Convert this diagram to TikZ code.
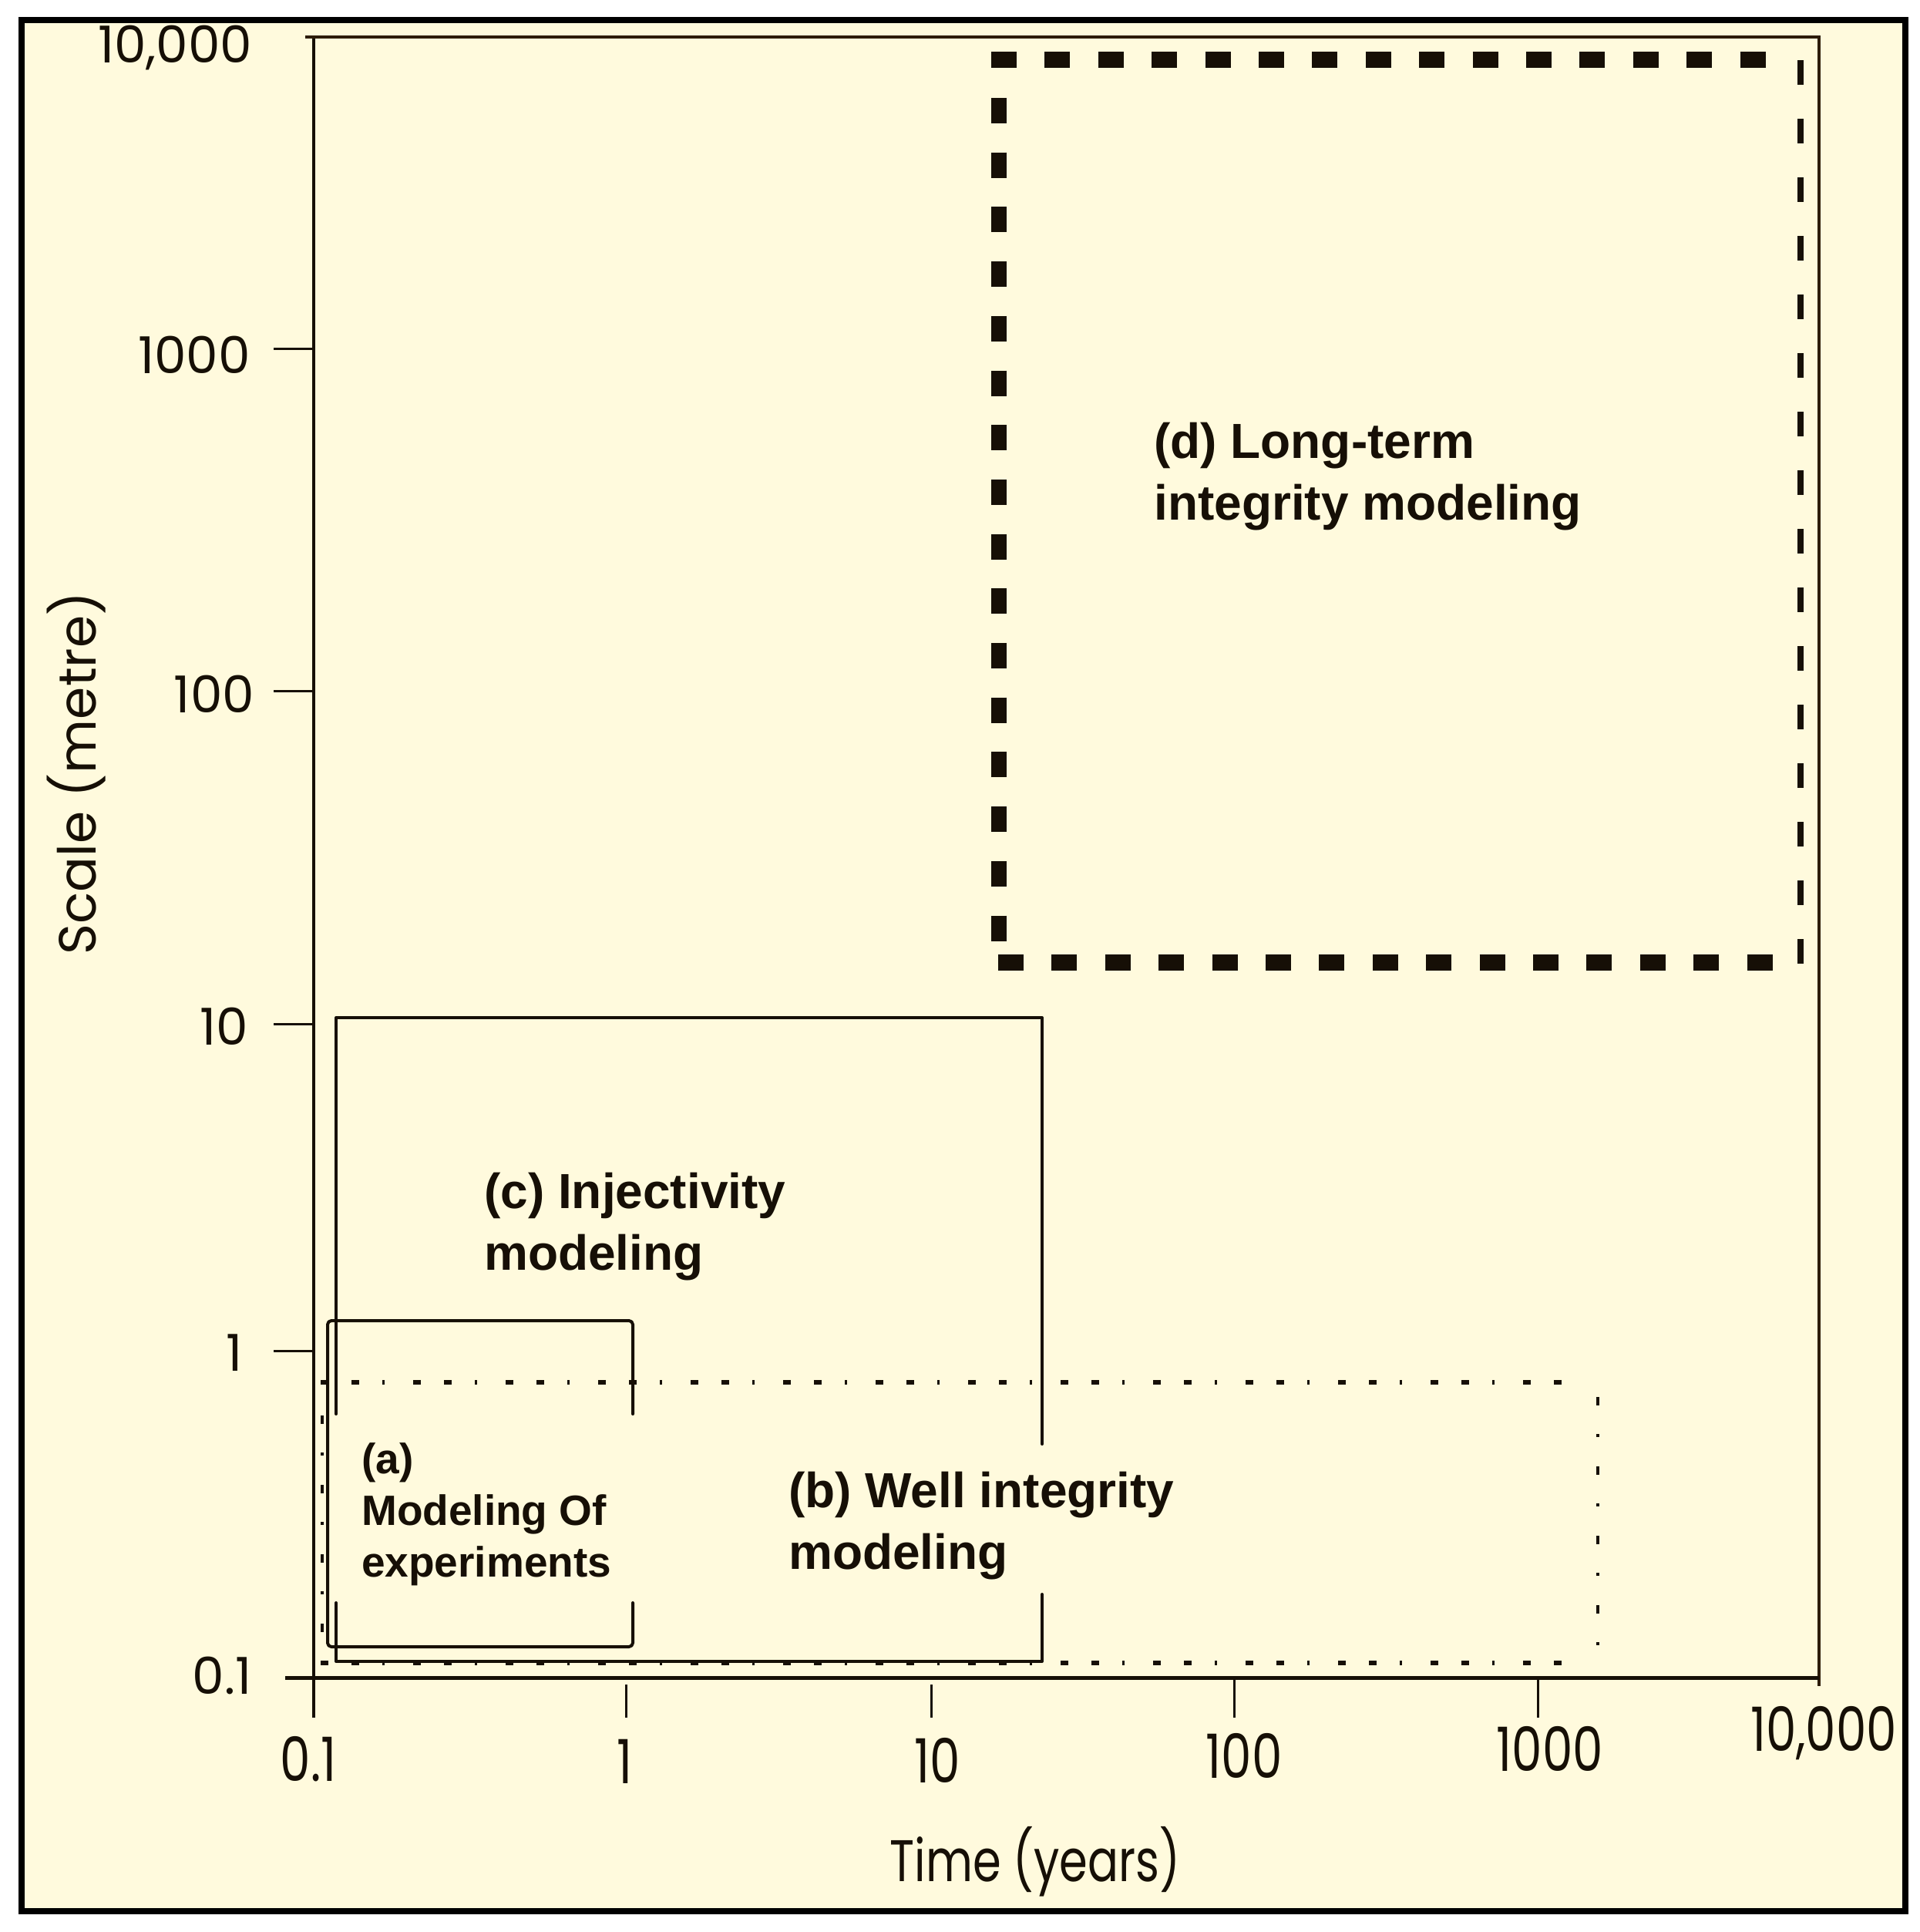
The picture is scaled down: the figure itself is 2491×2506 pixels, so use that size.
\documentclass[tikz,border=0pt]{standalone}
\usepackage{fontspec}
\setmainfont{Liberation Sans}
\newfontfamily\axfont{Poppins}
\definecolor{cream}{RGB}{255,250,221}
\definecolor{ink}{RGB}{22,15,6}
\definecolor{axbrown}{RGB}{45,28,8}
\begin{document}
\begin{tikzpicture}[x=1pt,y=-1pt,
  axisln/.style={draw=ink, line width=3.5pt},
  framebrown/.style={draw=axbrown, line width=4pt},
  tickln/.style={draw=ink, line width=3pt},
  boxln/.style={draw=ink, line width=4pt, line cap=round, line join=round},
  dtop/.style={draw=ink, line width=21pt, line cap=butt, dash pattern=on 33pt off 36.4pt},
  dleft/.style={draw=ink, line width=20pt, line cap=butt, dash pattern=on 33pt off 37.7pt},
  dright/.style={draw=ink, line width=8pt, line cap=butt, dash pattern=on 32pt off 44pt},
  bhor/.style={draw=ink, line width=5.5pt, line cap=butt, dash pattern=on 10pt off 30pt on 10pt off 30pt on 3pt off 37pt},
  bver/.style={draw=ink, line width=4pt, line cap=butt, dash pattern=on 11pt off 37pt on 4pt off 38pt},
  lbl/.style={font=\bfseries\fontsize{64}{80}\selectfont, text=ink, align=left, anchor=north west, inner sep=0pt},
  lbla/.style={font=\bfseries\fontsize{55}{67}\selectfont, text=ink, align=left, anchor=north west, inner sep=0pt},
  ticklab/.style={font=\axfont\fontsize{66}{66}\selectfont, text=ink, inner sep=0pt},
  axlab/.style={font=\axfont\fontsize{68}{68}\selectfont, text=ink, inner sep=0pt}
]
\useasboundingbox (0,0) rectangle (2491,2506);
\fill[white] (0,0) rectangle (2491,2506);
\draw[line width=8pt, fill=cream] (28,26) rectangle (2472,2479);

% axes
\draw[axisln] (407,48) -- (407,2228);
\draw[framebrown] (396,48) -- (2360,48) -- (2360,2187);
\draw[axisln, line width=5pt] (370,2176) -- (2360,2176);

% y ticks
\draw[tickln] (355,452) -- (407,452);
\draw[tickln] (355,896) -- (407,896);
\draw[tickln] (355,1328) -- (407,1328);
\draw[tickln] (355,1752) -- (407,1752);
% x ticks
\draw[tickln] (812,2185) -- (812,2228);
\draw[tickln] (1208,2185) -- (1208,2228);
\draw[tickln] (1601,2176) -- (1601,2228);
\draw[tickln] (1995,2176) -- (1995,2228);

% y tick labels
\node[ticklab] (y4) at (227,62) {10,000};
\node[ticklab] (y3) at (252,460) {1000};
\node[ticklab] (y2) at (278,900) {100};
\node[ticklab] (y1) at (291,1331) {10};
\node[ticklab] (y0) at (304,1755) {1};
\node[ticklab] (ym) at (288,2173) {0.1};
% x tick labels
\node[ticklab] (xm) at (400,2282) {\scalebox{0.95}[1.2]{0.1}};
\node[ticklab] (x0) at (811,2285) {\scalebox{0.95}[1.2]{1}};
\node[ticklab] (x1) at (1216,2283) {\scalebox{0.95}[1.2]{10}};
\node[ticklab] (x2) at (1614,2277) {\scalebox{0.95}[1.2]{100}};
\node[ticklab] (x3) at (2011,2268) {\scalebox{0.95}[1.2]{1000}};
\node[ticklab] (x4) at (2366,2248) {\scalebox{0.95}[1.2]{10,000}};

% axis titles
\node[axlab] (xlab) at (1343,2415) {\scalebox{0.87}[1.12]{Time (years)}};
\node[axlab, rotate=90] (ylab) at (99,1003) {Scale (metre)};

% (d) long-term box: thick dashed
\draw[dtop] (1286,77) -- (2300,77);
\draw[dtop] (1295,1248) -- (2300,1248);
\draw[dleft] (1296,127) -- (1296,1225);
\draw[dright] (2336,78) -- (2336,1250);

% (c) injectivity box
\draw[boxln] (436,1834) -- (436,1320) -- (1352,1320) -- (1352,1873);
\draw[boxln] (1352,2068) -- (1352,2155) -- (436,2155) -- (436,2079);

% (a) experiments box
\draw[boxln, rounded corners=5pt] (821,1834) -- (821,1713) -- (425,1713) -- (425,2136) -- (821,2136) -- (821,2079);

% (b) well integrity box: dash-dot
\draw[bhor] (416,1793) -- (2052,1793);
\draw[bhor] (416,2157) -- (2052,2157);
\draw[bver] (418,1836) -- (418,2160);
\draw[bver] (2073,1812) -- (2073,2140);

% labels
\node[lbl] (dlab) at (1497,548) {(d) Long-term\\integrity modeling};
\node[lbl] (clab) at (628,1521) {(c) Injectivity\\modeling};
\node[lbl] (blab) at (1023,1909) {(b) Well integrity\\modeling};
\node[lbla] (alab) at (469,1871) {(a)\\Modeling Of\\experiments};
\end{tikzpicture}
\end{document}
